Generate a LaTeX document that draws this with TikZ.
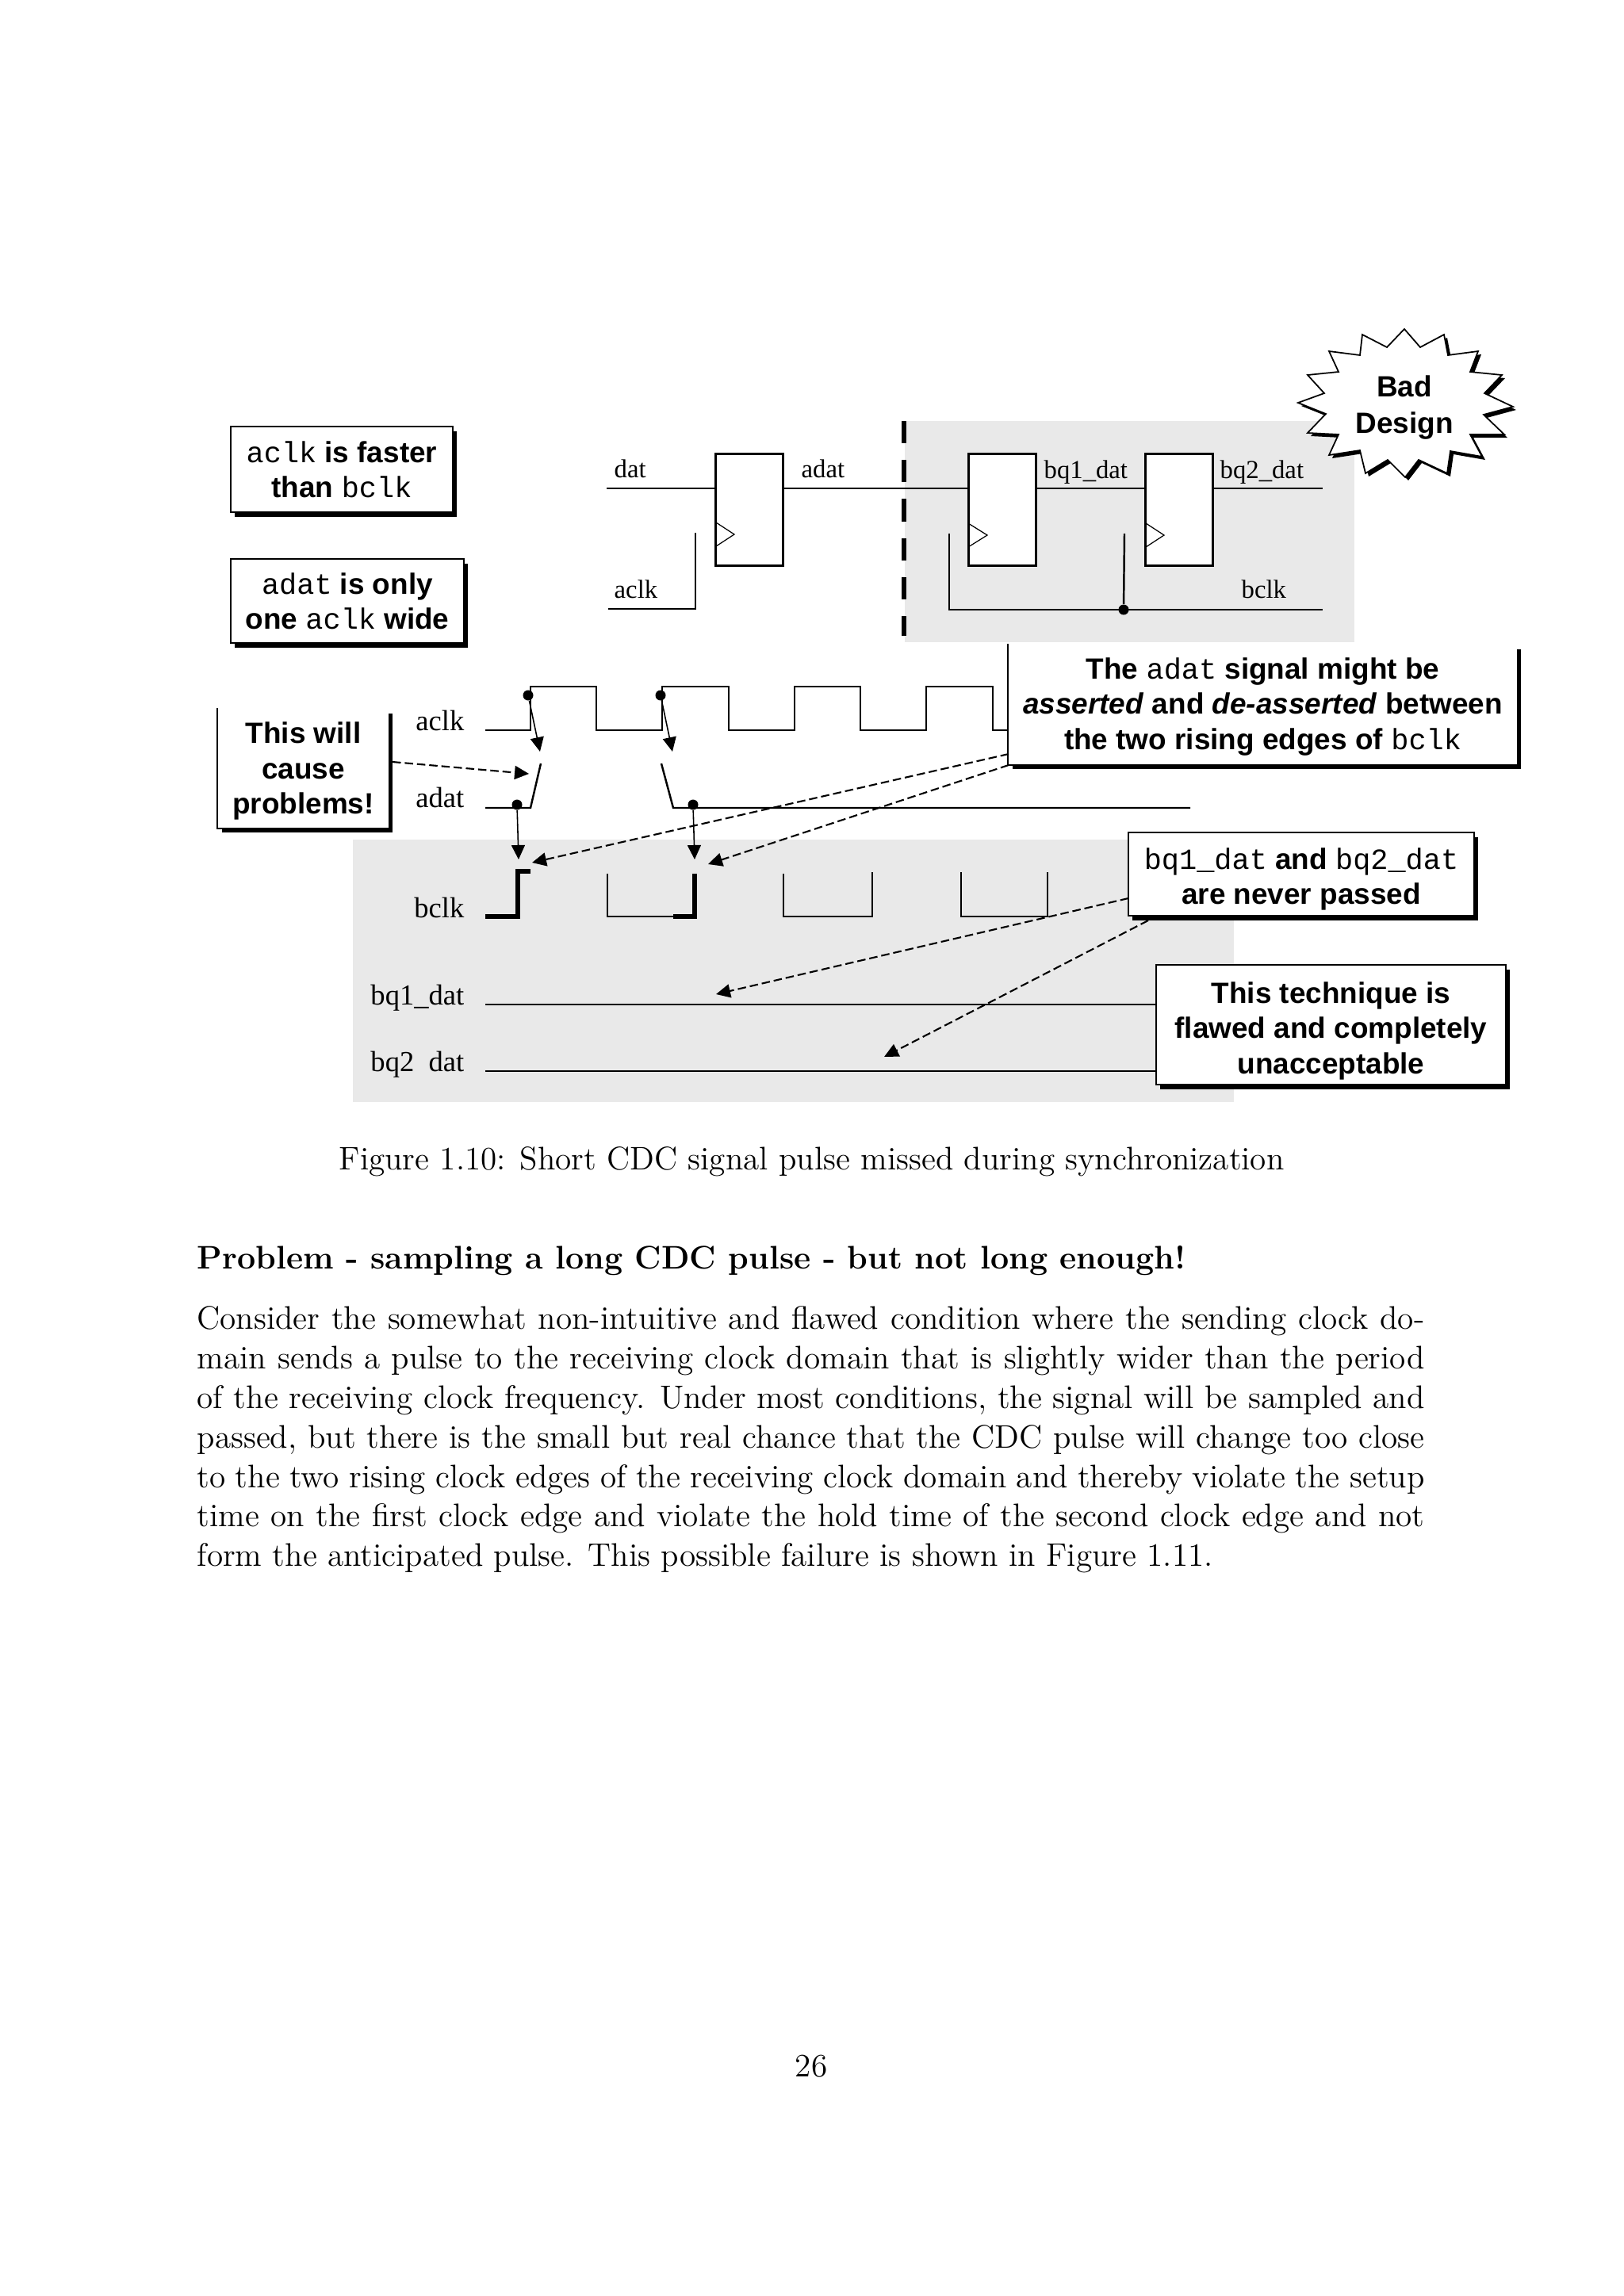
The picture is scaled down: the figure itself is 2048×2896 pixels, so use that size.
\documentclass[tikz,border=0pt]{standalone}
\usepackage{fontspec}
\usepackage{xcolor}
\usetikzlibrary{arrows.meta,shadows}
\newfontfamily\notefont{Liberation Sans}
\newfontfamily\notemono{Liberation Mono}
\newfontfamily\sigfont{Liberation Serif}
\newcommand{\nt}[1]{{\notemono\mdseries #1}}
\newcommand{\notedrop}[1]{\rule{0pt}{#1}}
\newcommand{\starpath}{(1771,415) -- (1791,438) -- (1821,422) -- (1826,448) -- (1864,443) -- (1854,469) -- (1894,473) -- (1872,496) -- (1908,513) -- (1871,523) -- (1897,548) -- (1854,548) -- (1869,576) -- (1829,569) -- (1825,597) -- (1789,580) -- (1772,602) -- (1750,580) -- (1722,597) -- (1715,568) -- (1676,574) -- (1688,548) -- (1649,546) -- (1672,522) -- (1637,508) -- (1670,496) -- (1649,473) -- (1688,469) -- (1676,443) -- (1715,448) -- (1718,422) -- (1749,438) -- cycle}
\definecolor{zonegray}{gray}{0.915}
\tikzset{
  notebox/.style={draw=black, line width=0.6pt, fill=white, inner sep=0pt, align=center,
    font=\notefont\bfseries\fontsize{10.5}{12.6}\selectfont,
    drop shadow={shadow xshift=0.05cm, shadow yshift=-0.06cm, fill=black, opacity=1}},
  opennote/.style={notebox, draw=none},
  sigline/.style={line width=0.7pt},
  boldline/.style={line width=1.7pt},
  ffbox/.style={draw=black, line width=0.7pt, fill=white, inner sep=0pt, minimum width=0.85cm, minimum height=1.41cm},
  clkmark/.style={line width=0.35pt},
  wavelabel/.style={anchor=base west, inner sep=0pt, font=\sigfont\fontsize{9.3}{11}\selectfont},
  timelabel/.style={anchor=base east, inner sep=0pt, font=\sigfont\fontsize{10.4}{12}\selectfont},
  wavedot/.style={circle, fill=black, inner sep=0pt, minimum size=0.13cm},
  samplearrow/.style={line width=0.45pt, -{Triangle[length=0.18cm,width=0.17cm]}},
  notearrow/.style={line width=0.6pt, dash pattern=on 3pt off 1.4pt, -{Triangle[length=0.18cm,width=0.17cm]}},
  bodytext/.style={inner sep=0pt, font=\fontsize{11.71}{14.17}\selectfont}
}
\begin{document}
\begin{tikzpicture}[x=0.01cm, y=-0.01cm]
    \useasboundingbox (0,0) rectangle (2048,2896);

    % Gray zones
    \fill[zonegray] (1141,531) rectangle (1708,810);
    \fill[zonegray] (445,1059) rectangle (1556,1390);
    \draw[line width=1.5pt, dash pattern=on 8pt off 6pt] (1140,531) -- (1140,802);

    % Notes on the left
    \node[notebox, minimum width=2.80cm, minimum height=1.08cm] (fasternote) at (431,592) {\nt{aclk} is faster\\than \nt{bclk}};
    \node[notebox, minimum width=2.94cm, minimum height=1.06cm] (widenote) at (438,758) {\nt{adat} is only\\one \nt{aclk} wide};

    % Synchronizer
    \draw[sigline] (765,616) -- (1668,616);
    \node[ffbox] (ffa) at (945,643) {};
    \node[ffbox] (ffb) at (1264,643) {};
    \node[ffbox] (ffc) at (1487,643) {};
    \draw[clkmark] (903,659) -- (926,674) -- (903,689);
    \draw[clkmark] (1221,660) -- (1245,675) -- (1221,690);
    \draw[clkmark] (1445,660) -- (1468,675) -- (1445,690);
    \draw[sigline] (767,768) -- (877,768) -- (877,672);
    \draw[sigline] (1197,673) -- (1197,769) -- (1668,769);
    \node[wavedot] (bclkdot) at (1417,769) {};
    \draw[sigline] (1418,673) -- (bclkdot);
    \node[wavelabel] (datlabel) at (774,602) {dat};
    \node[wavelabel] (adatlabel) at (1010,602) {adat};
    \node[wavelabel] (bqalabel) at (1316,603) {bq1\_dat};
    \node[wavelabel] (bqblabel) at (1538,603) {bq2\_dat};
    \node[wavelabel] (aclklabel) at (774,754) {aclk};
    \node[wavelabel] (bclklabel) at (1565,754) {bclk};

    % Bad design star
    \fill[shift={(4,4)}] \starpath;
    \draw[fill=white, line width=0.5pt] \starpath;
    \node[inner sep=0pt, align=center, font=\notefont\bfseries\fontsize{10.5}{13.2}\selectfont] (starnote) at (1771,514) {Bad\\Design};

    % aclk and adat waveforms
    \draw[sigline] (612,921) -- (669,921) -- (669,866) -- (752,866) -- (752,921) -- (835,921) -- (835,866) -- (919,866) -- (919,921) -- (1002,921) -- (1002,866) -- (1085,866) -- (1085,921) -- (1168,921) -- (1168,866) -- (1252,866) -- (1252,921) -- (1280,921);
    \draw[sigline] (612,1019) -- (669,1019) -- (682,963);
    \draw[sigline] (834,963) -- (849,1019) -- (1501,1019);
    \node[timelabel] (aclkrow) at (586,921) {aclk};
    \node[timelabel] (adatrow) at (586,1018) {adat};

    % bclk waveform
    \draw[boldline] (612,1156) -- (653,1156) -- (653,1099) -- (669,1099);
    \draw[sigline] (766,1102) -- (766,1156) -- (849,1156);
    \draw[boldline] (849,1156) -- (876,1156) -- (876,1102);
    \draw[sigline] (988,1102) -- (988,1156) -- (1100,1156) -- (1100,1100);
    \draw[sigline] (1212,1100) -- (1212,1156) -- (1321,1156) -- (1321,1100);
    \node[timelabel] (bclkrow) at (586,1157) {bclk};

    % bq lines
    \draw[sigline] (612,1267) -- (1458,1267);
    \draw[sigline] (612,1351) -- (1458,1351);
    \node[timelabel] (bqarow) at (586,1267) {bq1\_dat};
    \node[timelabel] (bqbrow) at (586,1351) {bq2\ \ dat};

    % Sampling arrows
    \node[wavedot] (aclkdota) at (666,877) {};
    \node[wavedot] (aclkdotb) at (833,877) {};
    \node[wavedot] (adatdota) at (652,1015) {};
    \node[wavedot] (adatdotb) at (874,1015) {};
    \coordinate (adatrise) at (681,948);
    \coordinate (adatfall) at (848,948);
    \coordinate (bclkrisea) at (654,1084);
    \coordinate (bclkriseb) at (876,1084);
    \draw[samplearrow] (aclkdota) -- (adatrise);
    \draw[samplearrow] (aclkdotb) -- (adatfall);
    \draw[samplearrow] (adatdota) -- (bclkrisea);
    \draw[samplearrow] (adatdotb) -- (bclkriseb);

    % Notes on the waveforms
    \node[opennote, minimum width=6.41cm, minimum height=1.51cm] (adatnote) at (1592.5,888.5) {\notedrop{9.2pt}The \nt{adat} signal might be\\\textit{asserted} and \textit{de-asserted} between\\the two rising edges of \nt{bclk}};
    \draw[sigline] (adatnote.north west) -- (adatnote.south west) -- (adatnote.south east);
    \node[opennote, minimum width=2.15cm, minimum height=1.50cm] (causenote) at (382.5,969) {\notedrop{9.6pt}This will\\cause\\problems!};
    \draw[sigline] (causenote.north west) -- (causenote.south west) -- (causenote.south east);
    \node[notebox, minimum width=4.36cm, minimum height=1.05cm] (bqnote) at (1641,1102.5) {\notedrop{11.2pt}\nt{bq1\_dat} and \nt{bq2\_dat}\\are never passed};
    \node[notebox, minimum width=4.41cm, minimum height=1.51cm] (flawnote) at (1678.5,1292.5) {\notedrop{12pt}This technique is\\flawed and completely\\unacceptable};

    % Note arrows
    \coordinate (causestart) at (495,961);
    \coordinate (causetip) at (667,976);
    \coordinate (adatstarta) at (1272,951);
    \coordinate (adatstartb) at (1272,965);
    \coordinate (adattipa) at (671,1088);
    \coordinate (adattipb) at (893,1090);
    \coordinate (bqstarta) at (1423,1133);
    \coordinate (bqstartb) at (1448,1161);
    \coordinate (bqtipa) at (903,1254);
    \coordinate (bqtipb) at (1115,1333);
    \draw[notearrow] (causestart) -- (causetip);
    \draw[notearrow] (adatstarta) -- (adattipa);
    \draw[notearrow] (adatstartb) -- (adattipb);
    \draw[notearrow] (bqstarta) -- (bqtipa);
    \draw[notearrow] (bqstartb) -- (bqtipb);

    % Page text
    \node[bodytext, anchor=base west] (figcaption) at (427,1475) {Figure 1.10: Short CDC signal pulse missed during synchronization};
    \node[bodytext, anchor=base west, font=\bfseries\fontsize{11.71}{14.17}\selectfont] (sectionhead) at (248,1600) {Problem - sampling a long CDC pulse - but not long enough!};
    \node[bodytext, anchor=north west, text width=15.47cm, align=justify] (bodypara) at (248,1647) {Consider the somewhat non-intuitive and flawed condition where the sending clock domain sends a pulse to the receiving clock domain that is slightly wider than the period of the receiving clock frequency. Under most conditions, the signal will be sampled and passed, but there is the small but real chance that the CDC pulse will change too close to the two rising clock edges of the receiving clock domain and thereby violate the setup time on the first clock edge and violate the hold time of the second clock edge and not form the anticipated pulse. This possible failure is shown in Figure 1.11.};
    \node[bodytext, anchor=base] (pagenumber) at (1023,2619) {26};
\end{tikzpicture}
\end{document}
